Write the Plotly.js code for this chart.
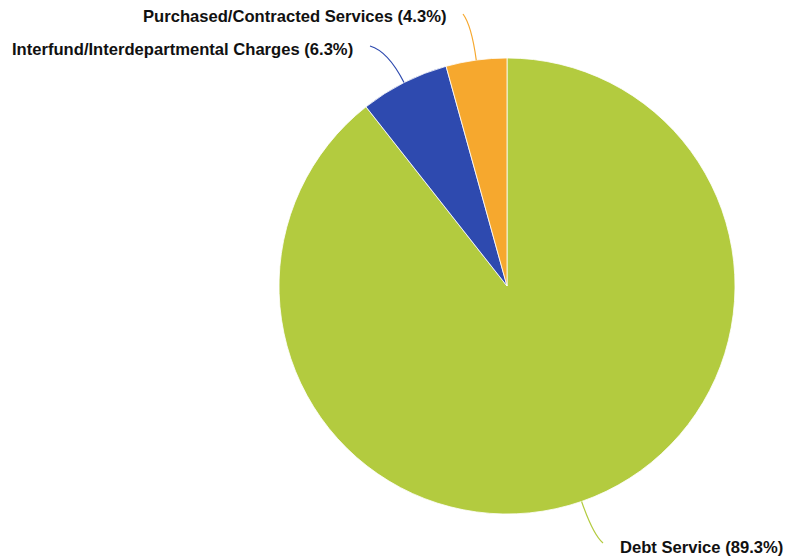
<!DOCTYPE html>
<html>
<head>
<meta charset="utf-8">
<script src="https://cdn.plot.ly/plotly-3.0.1.min.js"></script>
<style>html,body{margin:0;padding:0;background:#fff;}#chart{width:785px;height:559px;}</style>
</head>
<body>
<div id="chart"></div>
<script>
const categories = ["Debt Service", "Interfund/Interdepartmental Charges", "Purchased/Contracted Services"];
const percents = [89.3, 6.3, 4.3];
const colors = ["#B3CB3F", "#2E4AAF", "#F6A82E"];

const W = 785, H = 559;
const cx = 507, cy = 286, R = 228;
// label anchors (pixels) and alignment
const labelPos = [
  {x: 618, y: 547, anchor: "left", end: [603, 543]},
  {x: 355, y: 49, anchor: "right", end: [370, 46]},
  {x: 448, y: 17, anchor: "right", end: [463, 14]}
];

const px = x => x / W;
const py = y => 1 - y / H;

const total = percents.reduce((a, b) => a + b, 0);
const shapes = [], annotations = [];
let cum = 0;
percents.forEach((v, i) => {
  const mid = (cum + v / 2) / total * 2 * Math.PI;
  cum += v;
  const sx = cx + R * Math.sin(mid), sy = cy - R * Math.cos(mid);
  const qx = cx + (R + 35) * Math.sin(mid), qy = cy - (R + 35) * Math.cos(mid);
  const [ex, ey] = labelPos[i].end;
  shapes.push({
    type: "path", xref: "paper", yref: "paper",
    path: `M ${px(sx)},${py(sy)} Q ${px(qx)},${py(qy)} ${px(ex)},${py(ey)}`,
    line: {color: colors[i], width: 1.2}
  });
  annotations.push({
    xref: "paper", yref: "paper", x: px(labelPos[i].x), y: py(labelPos[i].y),
    xanchor: labelPos[i].anchor, yanchor: "middle", showarrow: false,
    text: `<b>${categories[i]} (${v.toFixed(1)}%)</b>`,
    font: {family: "Liberation Sans, Arial, sans-serif", size: 16.6, color: "#111"}
  });
});

const data = [{
  type: "pie",
  labels: categories,
  values: percents,
  sort: false,
  direction: "clockwise",
  rotation: 0,
  textinfo: "none",
  hoverinfo: "label+percent",
  marker: {colors: colors, line: {color: "#ffffff", width: 0.8}},
  domain: {x: [px(cx - R), px(cx + R)], y: [py(cy + R), py(cy - R)]},
  showlegend: false
}];

const layout = {
  width: W, height: H,
  margin: {l: 0, r: 0, t: 0, b: 0},
  paper_bgcolor: "#ffffff",
  showlegend: false,
  shapes: shapes,
  annotations: annotations
};

Plotly.newPlot("chart", data, layout, {displayModeBar: false, staticPlot: true});
</script>
</body>
</html>
